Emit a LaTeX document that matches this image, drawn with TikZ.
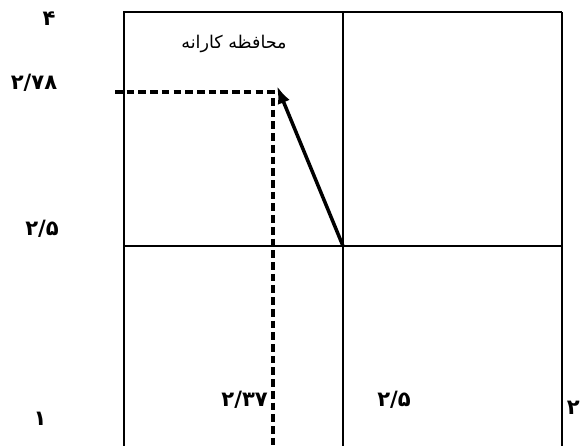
\documentclass[tikz,border=0pt]{standalone}
\usepackage{fontspec}
\newfontfamily\arabicfont[Script=Arabic]{DejaVu Sans}
\TeXXeTstate=1
\usetikzlibrary{arrows.meta, positioning}

\begin{document}
\begin{tikzpicture}[x=0.03cm,y=-0.03cm,
  num/.style={font=\arabicfont\bfseries\fontsize{18}{20}\selectfont, inner sep=0pt},
  grid/.style={line width=1.7pt},
  dashline/.style={line width=3pt, dash pattern=on 6.5pt off 3.5pt}]
\useasboundingbox (0,0) rectangle (581,446);
% the square and its cross
\draw[grid] (124,446) -- (124,12) -- (562,12);
\draw[grid, line width=2.4pt] (562,12) -- (562,446);
\draw[grid] (343,12) -- (343,446);
\draw[grid] (124,246) -- (562,246);
% axis numbers
\node[num] (y4)   at (49,19)   {۴};
\node[num] (y278) at (34,83)   {۲/۷۸};
\node[num] (y25)  at (42,229)  {۲/۵};
\node[num] (y1)   at (40,419)  {۱};
\node[num, anchor=east] (x237) at (268,400) {۲/۳۷};
\node[num] (x25)  at (394,400) {۲/۵};
\node[num, anchor=east] (x2) at (580,408) {۲};
\node[font=\arabicfont\fontsize{15}{17}\selectfont] (label) at (234,44) {\beginR محافظه کارانه\endR};
% dashed guide and arrow
\coordinate (start) at (115,92);
\coordinate (corner) at (273,92);
\coordinate (foot) at (273,446);
\coordinate (centre) at (343,246);
\coordinate (tip) at (277,86);
\draw[dashline] (start) -- (corner) -- (foot);
\draw[line width=3pt, -{Latex[length=15pt,width=11pt]}] (centre) -- (tip);
\end{tikzpicture}
\end{document}
